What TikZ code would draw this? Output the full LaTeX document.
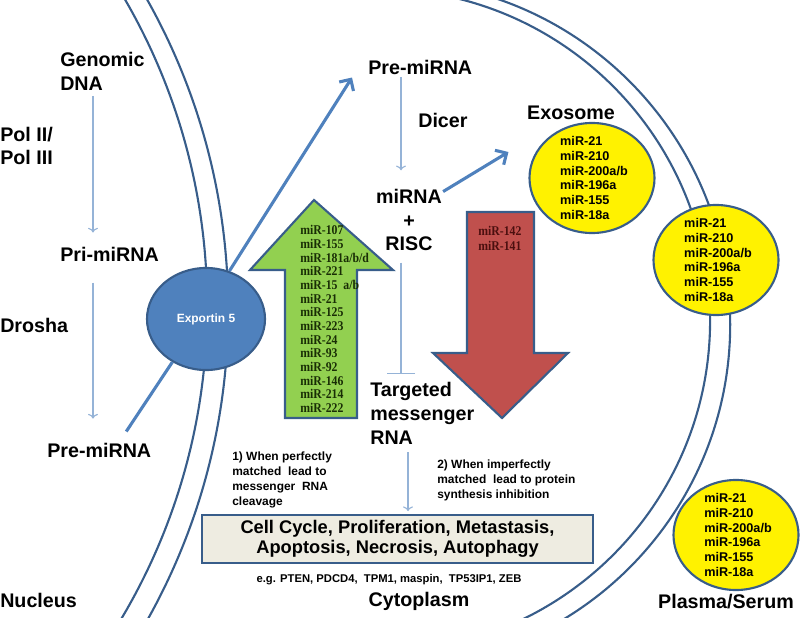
\documentclass[tikz,border=0pt]{standalone}
\usepackage{fontspec}
\setmainfont{Liberation Sans}
\newfontfamily\serifmir{Liberation Serif}[FakeStretch=0.88]
\usetikzlibrary{shapes.geometric,arrows.meta}

\definecolor{memblue}{RGB}{56,93,138}
\definecolor{arrowblue}{RGB}{79,129,189}
\definecolor{thinblue}{RGB}{149,179,215}
\definecolor{mirgreen}{RGB}{146,208,80}
\definecolor{mirred}{RGB}{192,80,77}
\definecolor{boxfill}{RGB}{238,236,225}
\definecolor{greentext}{RGB}{25,45,5}
\definecolor{redtext}{RGB}{75,15,15}

\begin{document}
\begin{tikzpicture}[x=0.025cm,y=-0.025cm]
    \tikzstyle{big}=[inner sep=0pt,font=\fontsize{14}{17}\selectfont\bfseries]
    \tikzstyle{note}=[inner sep=0pt,align=left,font=\fontsize{8.5}{10.6}\selectfont\bfseries]
    \tikzstyle{membrane}=[draw=memblue,line width=1.5pt]
    \tikzstyle{thinarrow}=[draw=thinblue,line width=0.8pt,->]
    \tikzstyle{thickarrow}=[draw=arrowblue,line width=2.2pt,-{Straight Barb[length=6pt,width=12pt]}]
    \tikzstyle{vesicle}=[ellipse,draw=memblue,line width=1.5pt,fill=yellow,minimum width=3.125cm,minimum height=2.75cm]
    \tikzstyle{mirlist}=[inner sep=0pt,align=left,font=\fontsize{9}{10.6}\selectfont\bfseries]
    \tikzstyle{arrowlist}=[inner sep=0pt,align=left,anchor=west,font=\serifmir\fontsize{9.5}{9.7}\selectfont\bfseries]

    \useasboundingbox (0,0) rectangle (800,617);

    % membranes
    \begin{scope}
        \clip (0,0) rectangle (800,617);
        \draw[membrane] (-405,306) circle[radius=15.3cm];
        \draw[membrane] (-406,310) circle[radius=15.85cm];
    \end{scope}
    \begin{scope}
        \clip (400,0) rectangle (800,617);
        \draw[membrane] (378.5,320.6) circle[radius=8.2875cm];
        \draw[membrane] (386.2,324.5) circle[radius=8.5975cm];
    \end{scope}

    % nucleus
    \node (gdna)[big,anchor=west,align=left] at (60,71) {Genomic\\DNA};
    \node (pol)[big,anchor=west,align=left] at (0,146) {Pol II/\\Pol III};
    \node (primi)[big,anchor=west] at (60,254) {Pri-miRNA};
    \node (drosha)[big,anchor=west] at (0,325) {Drosha};
    \node (pre1)[big,anchor=west] at (47,450) {Pre-miRNA};
    \node (nucleus)[big,anchor=west] at (0,600) {Nucleus};

    \coordinate (nx) at (93,0);
    \draw[thinarrow,shorten <=4pt,shorten >=10pt] (gdna.south -| nx) -- (primi.north -| nx);
    \draw[thinarrow,shorten <=15pt,shorten >=17pt] (primi.south -| nx) -- (pre1.north -| nx);

    \node (exp)[ellipse,fill=arrowblue,draw=memblue,line width=1.5pt,minimum width=2.95cm,minimum height=2.55cm,text=white,font=\fontsize{8.5}{10}\selectfont\bfseries] at (206,319) {Exportin 5};

    % up and down arrows
    \draw[draw=memblue,line width=1.5pt,fill=mirgreen] (285,418) -- (285,270) -- (250,270) -- (314,200) -- (393,270) -- (357,270) -- (357,418) -- cycle;
    \node (uplist)[arrowlist,text=greentext] at (300,319) {miR-107\\miR-155\\miR-181a/b/d\\miR-221\\miR-15~ a/b\\miR-21\\miR-125\\miR-223\\miR-24\\miR-93\\miR-92\\miR-146\\miR-214\\miR-222};

    \draw[draw=memblue,line width=1.5pt,fill=mirred] (467,212) -- (534,212) -- (534,353) -- (568,353) -- (502,418) -- (433,353) -- (467,353) -- cycle;
    \node (downlist)[arrowlist,text=redtext,font=\serifmir\fontsize{9.5}{10.6}\selectfont\bfseries] at (478,238) {miR-142\\miR-141};

    % cytoplasm
    \node (pre2)[big,anchor=west] at (368,67) {Pre-miRNA};
    \node (dicer)[big,anchor=west] at (418,120) {Dicer};
    \node (risc)[big,align=center] at (409,220) {miRNA\\+\\RISC};
    \node (target)[big,anchor=west,align=left] at (370,413) {Targeted\\messenger\\RNA};
    \node (exolabel)[big] at (571,113) {Exosome};

    \coordinate (cx) at (401,0);
    \coordinate (tx) at (408,0);
    \draw[thinarrow,shorten <=2pt,shorten >=13pt] (pre2.south -| cx) -- (risc.north -| cx);
    \draw[draw=thinblue,line width=0.8pt,-{Bar[width=20pt]},shorten <=8pt,shorten >=5.5pt] (risc.south -| cx) -- (target.north -| cx);

    \draw[thickarrow] (exp.64) -- ([shift={(-16,3)}]pre2.south west);
    \draw[draw=arrowblue,line width=2.2pt] ([shift={(27,-11)}]pre1.north) -- (exp.232);

    % vesicles
    \node (exo)[vesicle] at (592,178) {};
    \node (exolist)[mirlist] at (594,178) {miR-21\\miR-210\\miR-200a/b\\miR-196a\\miR-155\\miR-18a};
    \node (memves)[vesicle] at (716,260) {};
    \node (memlist)[mirlist] at (718,260) {miR-21\\miR-210\\miR-200a/b\\miR-196a\\miR-155\\miR-18a};
    \node (plasmaves)[vesicle] at (736,535) {};
    \node (plasmalist)[mirlist] at (738,535) {miR-21\\miR-210\\miR-200a/b\\miR-196a\\miR-155\\miR-18a};

    \draw[thickarrow] ([shift={(1,3)}]risc.north east) -- ([shift={(-20,-26)}]exo.west);

    % outcome
    \node (note1)[note,anchor=west] at (232,480) {1) When perfectly\\matched~ lead to\\messenger~ RNA\\cleavage};
    \node (note2)[note,anchor=west] at (437,480) {2) When imperfectly\\matched~ lead to protein\\synthesis inhibition};
    \node (cellbox)[draw=memblue,line width=1.5pt,fill=boxfill,minimum width=9.775cm,minimum height=1.2cm,align=center,font=\fontsize{13}{14.2}\selectfont\bfseries] at (397.5,539) {Cell Cycle, Proliferation, Metastasis,\\Apoptosis, Necrosis, Autophagy};
    \draw[thinarrow,shorten <=5.5pt,shorten >=2pt] (target.south -| tx) -- (cellbox.north -| tx);

    \node (eg)[note,font=\fontsize{8}{9}\selectfont\bfseries] at (389,580) {e.g. PTEN, PDCD4,~ TPM1, maspin,~ TP53IP1, ZEB};
    \node (cyto)[big] at (419,601) {Cytoplasm};
    \node (plasma)[big] at (726,602) {Plasma/Serum};
\end{tikzpicture}
\end{document}
